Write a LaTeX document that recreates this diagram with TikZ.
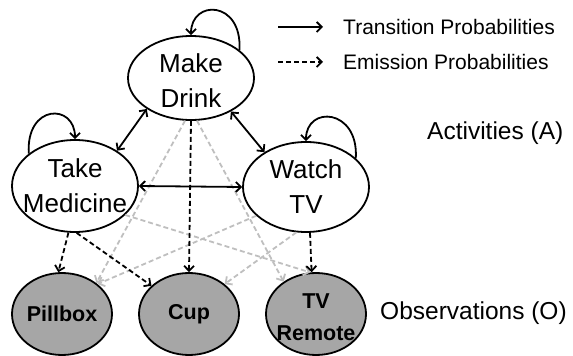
\documentclass[tikz,border=0pt]{standalone}
\usepackage{fontspec}
\setmainfont{Liberation Sans}
\usetikzlibrary{shapes.geometric,arrows.meta}

\tikzset{
	activity/.style={ellipse, draw, line width=1.8pt, fill=white, inner sep=0pt, minimum width=126pt, minimum height=88pt},
	observation/.style={ellipse, draw, line width=1.8pt, fill=black!35, inner sep=0pt, minimum width=100pt, minimum height=82pt},
	actlabel/.style={font=\fontsize{26}{35}\selectfont, align=center},
	obslabel/.style={font=\fontsize{21.5}{32}\selectfont\bfseries, align=center},
	sidelabel/.style={font=\fontsize{24.5}{28}\selectfont, anchor=west, inner sep=0pt},
	keylabel/.style={font=\fontsize{21}{24}\selectfont, anchor=west, inner sep=0pt},
	tip/.style={line width=1.8pt},
	trans/.style={tip, -{Straight Barb[length=5pt,width=10pt]}},
	transboth/.style={tip, {Straight Barb[length=5pt,width=10pt]}-{Straight Barb[length=5pt,width=10pt]}},
	emit/.style={tip, dash pattern=on 5pt off 3pt, -{Straight Barb[length=5pt,width=10pt]}},
	emitfaint/.style={emit, draw=black!25},
}

\begin{document}
\begin{tikzpicture}[x=1pt, y=1pt]
		\useasboundingbox (0,0) rectangle (573,356);

		% Hidden states
		\node[activity, minimum height=84pt, label={[actlabel, yshift=-3pt]center:Make\\Drink}] (drink) at (191,278) {};
		\node[activity, minimum height=92pt, label={[actlabel]center:Take\\Medicine}] (medicine) at (75,170) {};
		\node[activity, minimum height=90pt, label={[actlabel]center:Watch\\TV}] (tv) at (306,169) {};

		% Observed objects
		\node[observation, label={[obslabel]center:Pillbox}] (pillbox) at (62,42) {};
		\node[observation, label={[obslabel]center:Cup}] (cup) at (189,42) {};
		\node[observation, label={[obslabel, yshift=-3pt]center:TV\\Remote}] (remote) at (316,42) {};

		\node[sidelabel] (actname) at (427,223) {Activities (A)};
		\node[sidelabel] (obsname) at (380,43) {Observations (O)};

		% Weak emissions
		\draw[emitfaint] (drink.262) -- (pillbox.42);
		\draw[emitfaint] (drink.278) -- (remote.135);
		\draw[emitfaint] (medicine.-30) -- (remote.98);
		\draw[emitfaint] (tv.210) -- (pillbox.40);
		\draw[emitfaint] (tv.258) -- (cup.40);

		% Strong emissions
		\draw[emit] (medicine.262) -- (pillbox.95);
		\draw[emit] (medicine.272) -- (cup.143);
		\draw[emit] (drink.south) -- (cup.north);
		\draw[emit] (tv.275) -- (remote.96);

		% Transitions
		\draw[transboth] (drink.215) -- (medicine.40);
		\draw[transboth] (drink.-40) -- (tv.140);
		\draw[transboth] (medicine.east) -- (tv.west);
		\draw[trans] (drink.30) .. controls +(3,50) and +(0,36) .. (drink.north);
		\draw[trans] (medicine.145) .. controls +(-3,50) and +(0,36) .. (medicine.north);
		\draw[trans] (tv.30) .. controls +(3,50) and +(0,36) .. (tv.north);

		% Key
		\coordinate (tstart) at (278,329);
		\coordinate (tend) at (323,329);
		\coordinate (estart) at (278,294);
		\coordinate (eend) at (323,294);
		\draw[trans] (tstart) -- (tend);
		\draw[emit] (estart) -- (eend);
		\node[keylabel] (tkey) at (343,329) {Transition Probabilities};
		\node[keylabel] (ekey) at (343,294) {Emission Probabilities};
	\end{tikzpicture}
\end{document}
